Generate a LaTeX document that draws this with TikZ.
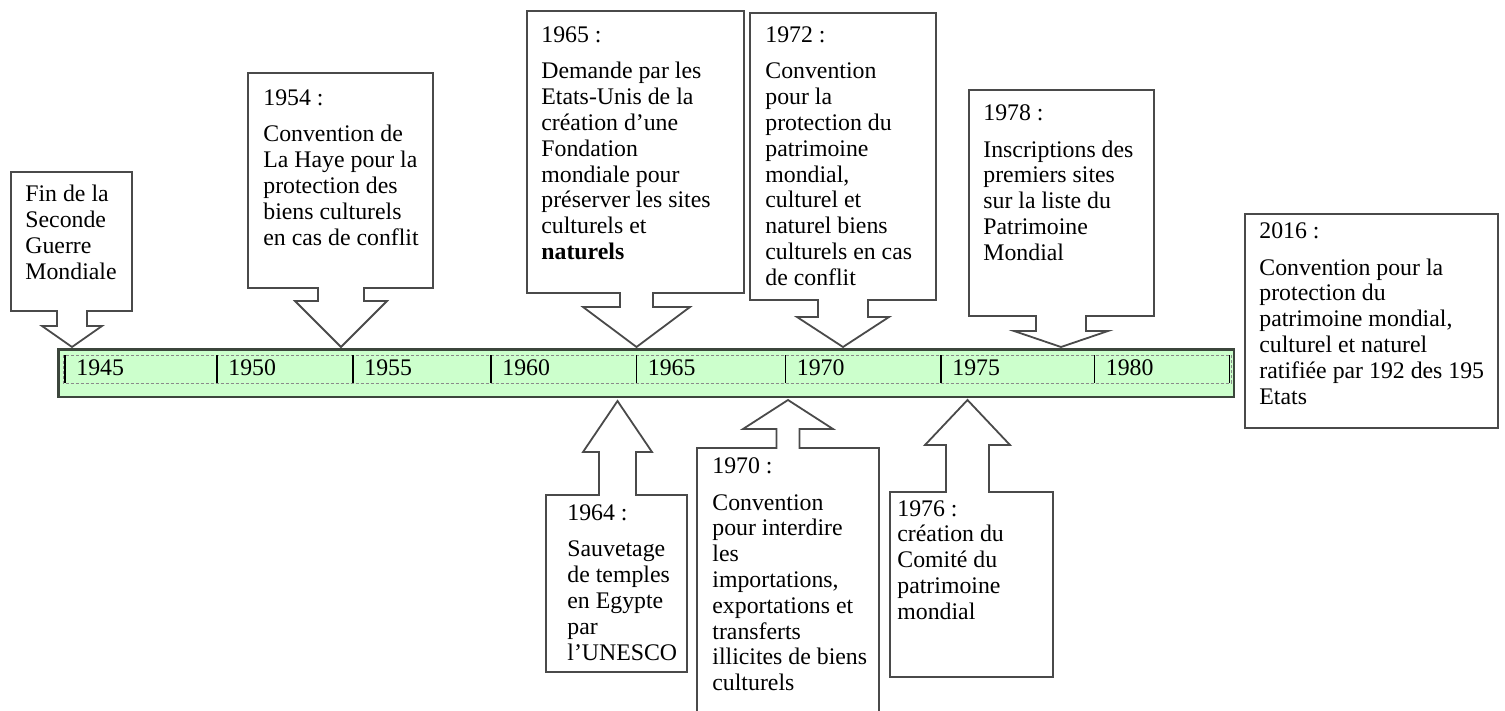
\documentclass[tikz,border=0pt]{standalone}
\usepackage{fontspec}
\setmainfont{Liberation Serif}
\definecolor{barfill}{HTML}{CCFFCC}
\definecolor{barline}{HTML}{3C463C}
\definecolor{boxline}{HTML}{4A4A4A}
\definecolor{dashline}{HTML}{8A8A8A}

% Callout with a downward arrow: L T R B  centre  stem-half  wing-half  stem-end  tip-y
\newcommand{\calldown}[9]{%
  \draw[callout] (#1,#2) -- (#3,#2) -- (#3,#4) -- ({#5+#6},#4) -- ({#5+#6},#8)
    -- ({#5+#7},#8) -- (#5,#9) -- ({#5-#7},#8) -- ({#5-#6},#8) -- ({#5-#6},#4)
    -- (#1,#4) -- cycle;}
% Callout with an upward arrow: same arguments
\newcommand{\callup}[9]{%
  \draw[callout] (#1,#4) -- (#1,#2) -- ({#5-#6},#2) -- ({#5-#6},#8)
    -- ({#5-#7},#8) -- (#5,#9) -- ({#5+#7},#8) -- ({#5+#6},#8) -- ({#5+#6},#2)
    -- (#3,#2) -- (#3,#4) -- cycle;}

\begin{document}
\begin{tikzpicture}[x=0.5pt, y=-0.5pt,
  callout/.style={draw=boxline, line width=0.9pt, line join=miter, fill=white},
  txt/.style={anchor=north west, inner sep=0pt, align=left,
              font=\fontsize{11.9}{12.9}\selectfont},
  lbl/.style={anchor=base west, inner sep=0pt, font=\fontsize{11.9}{12.9}\selectfont},
  tickmark/.style={draw=black, line width=0.9pt}]
\useasboundingbox (0,0) rectangle (1505,711);
\clip (0,0) rectangle (1505,711);

% ---- time bar ----
\draw[fill=barfill, draw=barline, line width=1.1pt] (58.5,349.5) rectangle (1234,397);
\draw[draw=dashline, line width=0.5pt, dash pattern=on 1.5pt off 1pt] (63,355.5) rectangle (1231,383);
\foreach \x/\yr in {65/1945, 217/1950, 353/1955, 491/1960, 636.5/1965,
                    785.5/1970, 941/1975, 1094.5/1980}{
  \draw[tickmark] (\x,355.5) -- (\x,383);
  \node[lbl] (y\yr) at (\x+11,375) {\yr};
}
\draw[tickmark] (1229.5,355.5) -- (1229.5,383);

% ---- callouts above the bar ----
\calldown{11}{172}{132}{311}{72}{15}{30}{326}{347}
\node[txt] (fin) at (25,185) {Fin de la\\Seconde\\Guerre\\Mondiale};

\calldown{248}{73}{433}{288}{341}{23}{46}{301}{347}
\node[txt] (e1954) at (263,89) {1954 :\\[5.5pt]Convention de\\La Haye pour la\\protection des\\biens culturels\\en cas de conflit};

\calldown{527}{11}{744}{293}{636.5}{16.5}{53.5}{307}{347}
\node[txt] (e1965) at (541,26) {1965 :\\[5.5pt]Demande par les\\Etats-Unis de la\\création d’une\\Fondation\\mondiale pour\\préserver les sites\\culturels et\\\textbf{naturels}};

\calldown{750}{13}{936}{300}{843}{25}{46}{317}{347}
\node[txt] (e1972) at (765,26) {1972 :\\[5.5pt]Convention\\pour la\\protection du\\patrimoine\\mondial,\\culturel et\\naturel biens\\culturels en cas\\de conflit};

\calldown{969}{90}{1154}{316}{1061}{25}{47}{331}{347}
\node[txt] (e1978) at (983,104) {1978 :\\[5.5pt]Inscriptions des\\premiers sites\\sur la liste du\\Patrimoine\\Mondial};

% ---- plain box on the right ----
\draw[callout] (1245,214) rectangle (1498,428);
\node[txt] (e2016) at (1259,222) {2016 :\\[5.5pt]Convention pour la\\protection du\\patrimoine mondial,\\culturel et naturel\\ratifiée par 192 des 195\\Etats};

% ---- callouts below the bar ----
\callup{546}{495}{687}{672}{617.5}{18.5}{34.5}{452}{401}
\node[txt] (e1964) at (567,504) {1964 :\\[5.5pt]Sauvetage\\de temples\\en Egypte\\par\\l’UNESCO};

\callup{697}{448}{879}{730}{788}{11.5}{45}{429}{400}
\node[txt] (e1970) at (712,457) {1970 :\\[5.5pt]Convention\\pour interdire\\les\\importations,\\exportations et\\transferts\\illicites de biens\\culturels};

\callup{890}{492}{1053}{677}{967.5}{21.5}{42.5}{445}{400}
\node[txt] (e1976) at (897,500) {1976 :\\création du\\Comité du\\patrimoine\\mondial};
\end{tikzpicture}
\end{document}
